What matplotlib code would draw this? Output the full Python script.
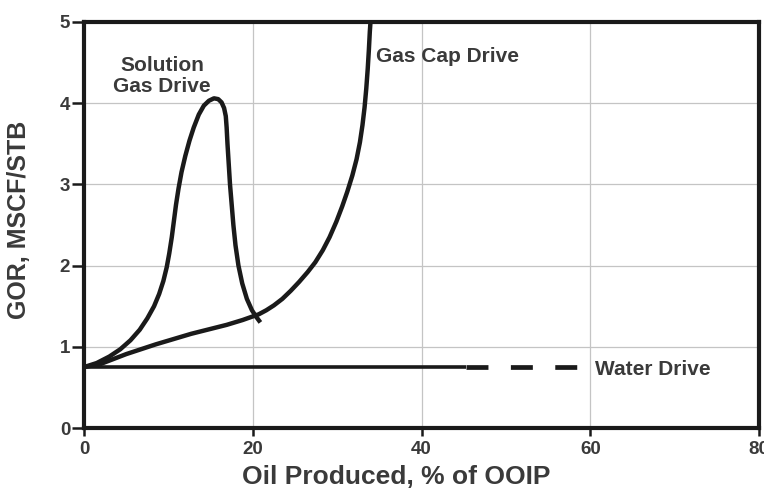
import matplotlib
matplotlib.use("Agg")
import matplotlib.pyplot as plt

# Solution gas drive: GOR vs oil produced
solution_x = [0.0, 1.5, 3.0, 4.3, 5.5, 6.6, 7.5, 8.3, 8.9, 9.4, 9.8, 10.1, 10.4, 10.65,
              10.9, 11.2, 11.55, 12.0, 12.5, 13.0, 13.6, 14.2, 14.8, 15.4, 15.9, 16.3,
              16.6, 16.8, 16.9, 17.0, 17.15, 17.3, 17.5, 17.7, 17.95, 18.3, 18.75, 19.3,
              19.9, 20.4, 20.9]
solution_y = [0.75, 0.80, 0.88, 0.97, 1.08, 1.21, 1.35, 1.50, 1.65, 1.81, 1.98, 2.15, 2.35, 2.55,
              2.75, 2.95, 3.15, 3.35, 3.54, 3.70, 3.86, 3.97, 4.03, 4.06, 4.05, 4.01,
              3.94, 3.84, 3.70, 3.50, 3.25, 3.00, 2.75, 2.50, 2.25, 2.00, 1.78, 1.59,
              1.45, 1.37, 1.30]

# Gas cap drive
gascap_x = [0.0, 2.0, 5.0, 8.5, 12.7, 16.9, 18.8, 20.7, 21.6, 22.5, 23.5, 24.5, 25.5, 26.5,
            27.4, 28.3, 29.1, 29.9, 30.6, 31.2, 31.8, 32.3, 32.7, 33.0, 33.25, 33.45,
            33.62, 33.76, 33.87, 33.95]
gascap_y = [0.75, 0.79, 0.91, 1.03, 1.16, 1.27, 1.33, 1.40, 1.45, 1.51, 1.59, 1.69, 1.80, 1.92,
            2.04, 2.19, 2.35, 2.54, 2.73, 2.91, 3.11, 3.31, 3.52, 3.73, 3.95, 4.18,
            4.42, 4.66, 4.88, 5.0]

# Water drive (solid, then dashed extension)
water_solid_x = [0.0, 45.3]
water_dash_x = [45.3, 59.7]
water_y = [0.75, 0.75]

x_ticks = [0, 20, 40, 60, 80]
y_ticks = [0, 1, 2, 3, 4, 5]

line_color = "#1a1a1a"
text_color = "#3a3a3a"
plt.rcParams["font.family"] = ["Liberation Sans", "DejaVu Sans"]

fig = plt.figure(figsize=(7.64, 4.94), dpi=100)
ax = fig.add_axes([0.110, 0.1336, 0.8835, 0.8219])

ax.plot(solution_x, solution_y, color=line_color, linewidth=3.2,
        solid_joinstyle="round", solid_capstyle="butt")
ax.plot(gascap_x, gascap_y, color=line_color, linewidth=3.2,
        solid_joinstyle="round", solid_capstyle="butt")
ax.plot(water_solid_x, water_y, color=line_color, linewidth=2.6, solid_capstyle="butt")
ax.plot(water_dash_x, water_y, color=line_color, linewidth=3.4,
        dashes=(4.65, 4.75), dash_capstyle="butt")

ax.text(9.3, 4.47, "Solution", ha="center", va="center", fontsize=15,
        fontweight="bold", color=text_color)
ax.text(9.2, 4.21, "Gas Drive", ha="center", va="center", fontsize=15,
        fontweight="bold", color=text_color)
ax.text(34.6, 4.57, "Gas Cap Drive", ha="left", va="center", fontsize=15,
        fontweight="bold", color=text_color)
ax.text(60.6, 0.72, "Water Drive", ha="left", va="center", fontsize=15,
        fontweight="bold", color=text_color)

ax.set_xlim(0, 80)
ax.set_ylim(0, 5)
ax.set_xticks(x_ticks)
ax.set_yticks(y_ticks)
ax.grid(True, color="#c4c4c4", linewidth=0.9)
ax.set_axisbelow(True)

for spine in ax.spines.values():
    spine.set_linewidth(3.0)
    spine.set_color(line_color)

ax.tick_params(axis="x", length=6, width=1.8, pad=3, labelsize=13.5,
               colors=line_color, labelcolor=text_color)
ax.tick_params(axis="y", length=9, width=1.8, pad=1, labelsize=13.5,
               colors=line_color, labelcolor=text_color)
for lbl in ax.get_xticklabels() + ax.get_yticklabels():
    lbl.set_fontweight("bold")

ax.set_xlabel("Oil Produced, % of OOIP", fontsize=19, fontweight="bold", color=text_color)
ax.set_ylabel("GOR, MSCF/STB", fontsize=18, fontweight="bold", color=text_color)
ax.xaxis.set_label_coords(0.462, -0.092)
ax.yaxis.set_label_coords(-0.078, 0.512)

fig.savefig("out.png", dpi=100)
